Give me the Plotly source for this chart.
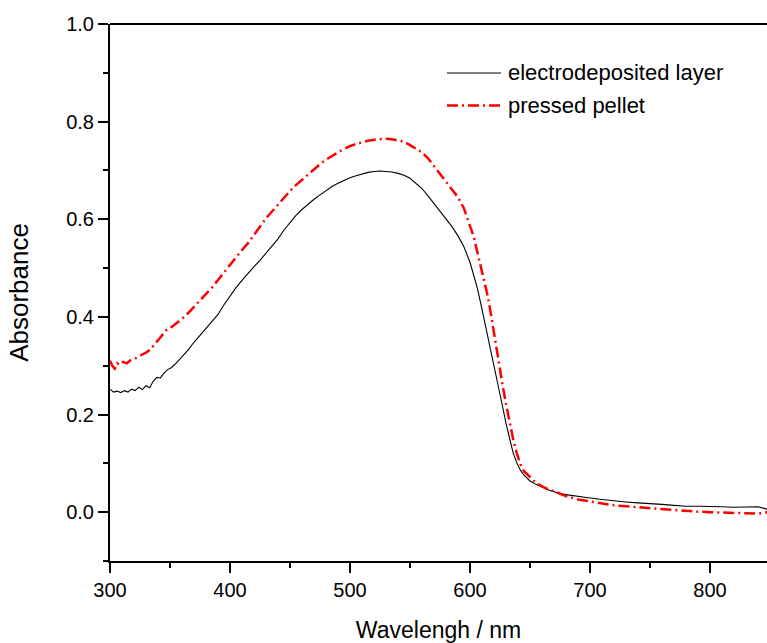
import plotly.graph_objects as go

# Absorption spectra: wavelength (nm) and absorbance
wl_electro = [300, 303, 306, 309, 312, 315, 318, 321, 324, 327, 330, 333, 336, 339, 342, 345, 348, 351,
              355, 360, 365, 370, 375, 380, 385, 390, 395, 400, 405, 410, 415, 420, 425, 430, 435, 440,
              445, 450, 455, 460, 465, 470, 475, 480, 485, 490, 495, 500, 505, 510, 515, 520, 525, 530,
              535, 540, 545, 550, 555, 560, 565, 570, 575, 580, 585, 590, 595, 600, 603, 606, 609, 612,
              615, 618, 621, 624, 627, 630, 633, 636, 639, 642, 645, 650, 655, 660, 665, 670, 675, 680,
              690, 700, 710, 720, 730, 740, 750, 760, 770, 780, 790, 800, 810, 820, 830, 840, 848]
abs_electro = [0.252, 0.246, 0.248, 0.245, 0.249, 0.246, 0.252, 0.249, 0.256, 0.251, 0.259, 0.255, 0.268,
               0.276, 0.275, 0.285, 0.292, 0.296, 0.305, 0.318, 0.332, 0.348, 0.362, 0.375, 0.390, 0.405,
               0.425, 0.443, 0.460, 0.475, 0.490, 0.503, 0.516, 0.530, 0.545, 0.560, 0.578, 0.594, 0.608,
               0.620, 0.631, 0.641, 0.650, 0.659, 0.667, 0.674, 0.680, 0.685, 0.689, 0.693, 0.696, 0.698,
               0.699, 0.698, 0.697, 0.694, 0.690, 0.684, 0.674, 0.663, 0.648, 0.632, 0.615, 0.600, 0.585,
               0.566, 0.543, 0.512, 0.488, 0.460, 0.427, 0.393, 0.360, 0.326, 0.290, 0.255, 0.218, 0.182,
               0.148, 0.121, 0.101, 0.086, 0.076, 0.064, 0.057, 0.051, 0.046, 0.042, 0.038, 0.036, 0.032,
               0.029, 0.026, 0.023, 0.021, 0.019, 0.018, 0.016, 0.014, 0.012, 0.012, 0.012, 0.011, 0.010,
               0.011, 0.011, 0.006]

wl_pellet = [300, 302, 304, 306, 308, 311, 314, 317, 320, 323, 326, 330, 333, 336, 340, 344, 347, 350,
             355, 360, 366, 370, 375, 380, 385, 390, 395, 400, 405, 410, 415, 420, 425, 430, 435, 440,
             445, 450, 455, 460, 465, 470, 475, 480, 485, 490, 495, 500, 505, 510, 515, 520, 525, 530,
             535, 540, 545, 550, 555, 560, 565, 570, 575, 580, 585, 590, 595, 600, 603, 606, 609, 612,
             615, 618, 621, 624, 627, 630, 633, 636, 639, 642, 645, 650, 655, 660, 665, 670, 675, 680,
             690, 700, 710, 720, 730, 740, 750, 760, 770, 780, 790, 800, 810, 820, 830, 840, 848]
abs_pellet = [0.310, 0.300, 0.294, 0.305, 0.302, 0.308, 0.305, 0.311, 0.313, 0.318, 0.322, 0.327, 0.332,
              0.340, 0.352, 0.364, 0.373, 0.377, 0.386, 0.396, 0.410, 0.420, 0.433, 0.447, 0.460, 0.476,
              0.492, 0.508, 0.522, 0.537, 0.551, 0.568, 0.586, 0.602, 0.616, 0.630, 0.645, 0.658, 0.670,
              0.681, 0.692, 0.703, 0.713, 0.722, 0.730, 0.737, 0.744, 0.750, 0.754, 0.758, 0.761, 0.763,
              0.764, 0.765, 0.764, 0.762, 0.759, 0.752, 0.745, 0.737, 0.725, 0.709, 0.692, 0.676, 0.660,
              0.645, 0.622, 0.588, 0.565, 0.534, 0.501, 0.473, 0.440, 0.398, 0.350, 0.305, 0.262, 0.222,
              0.184, 0.149, 0.121, 0.098, 0.084, 0.071, 0.060, 0.053, 0.047, 0.043, 0.038, 0.033, 0.026,
              0.022, 0.018, 0.014, 0.012, 0.010, 0.008, 0.006, 0.004, 0.003, 0.001, 0.000, -0.001, -0.002,
              -0.003, -0.003, 0.000]

series_names = ["electrodeposited layer", "pressed pellet"]

FONT = "Liberation Sans, Arial, sans-serif"
W, H = 767, 643
ML, MR, MT, MB = 110, 0, 24, 82
X_RANGE = [300, 300 + (W - ML - MR) / 1.2]
Y_RANGE = [-0.1, 1.0]

RED_DASH = "11px,4px,2px,4px"
BLACK_LINE = dict(color="black", width=1.1)
RED_LINE = dict(color="#ff0000", width=2.5, dash=RED_DASH)

fig = go.Figure()
fig.add_trace(go.Scatter(x=wl_electro, y=abs_electro, mode="lines", name=series_names[0],
                         line=BLACK_LINE, showlegend=False))
fig.add_trace(go.Scatter(x=wl_pellet, y=abs_pellet, mode="lines", name=series_names[1],
                         line=RED_LINE, showlegend=False))

axis_common = dict(
    showline=True, linecolor="black", linewidth=2, mirror=False,
    ticks="outside", ticklen=10, tickwidth=2, tickcolor="black",
    showgrid=False, zeroline=False,
    tickfont=dict(family=FONT, size=20, color="black"),
)

fig.update_xaxes(range=X_RANGE, dtick=100, tick0=0,
                 minor=dict(dtick=50, ticks="outside", ticklen=5, tickwidth=2, tickcolor="black"),
                 title=dict(text="Wavelengh / nm", font=dict(family=FONT, size=23, color="black"), standoff=23),
                 **axis_common)
fig.update_yaxes(range=Y_RANGE, dtick=0.2, tick0=0, tickformat=".1f",
                 minor=dict(dtick=0.1, ticks="outside", ticklen=5, tickwidth=2, tickcolor="black"),
                 title=dict(text="Absorbance", font=dict(family=FONT, size=26, color="black"), standoff=30),
                 **axis_common)

# top frame line
fig.add_shape(type="line", xref="paper", yref="paper", x0=0, x1=1, y0=1, y1=1,
              line=dict(color="black", width=2))

# hand-placed legend
pw, ph = W - ML - MR, H - MT - MB
def px_to_paper(px, py):
    return (px - ML) / pw, (H - MB - py) / ph

legend_rows = [(73, BLACK_LINE), (105.5, RED_LINE)]
for (py, lstyle), name in zip(legend_rows, series_names):
    x0, y0 = px_to_paper(447, py)
    x1, _ = px_to_paper(501, py)
    fig.add_shape(type="line", xref="paper", yref="paper", x0=x0, x1=x1, y0=y0, y1=y0, line=lstyle)
    tx, ty = px_to_paper(506, py)
    fig.add_annotation(xref="paper", yref="paper", x=tx, y=ty, text=name, showarrow=False,
                       xanchor="left", yanchor="middle",
                       font=dict(family=FONT, size=22, color="black"))

fig.update_layout(
    width=W, height=H,
    margin=dict(l=ML, r=MR, t=MT, b=MB),
    paper_bgcolor="white", plot_bgcolor="white",
    showlegend=False,
)

fig.write_html("out.html")
